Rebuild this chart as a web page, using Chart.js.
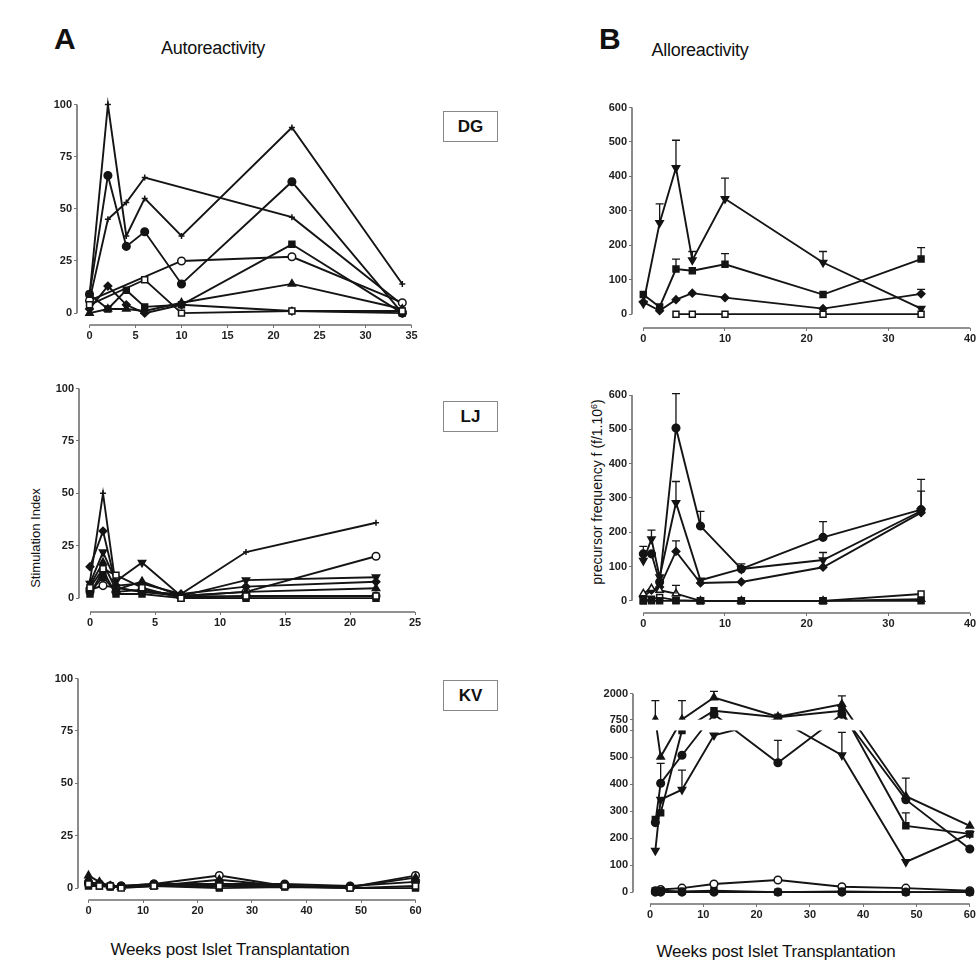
<!DOCTYPE html>
<html>
<head>
<meta charset="utf-8">
<script src="https://cdn.jsdelivr.net/npm/chart.js@4"></script>
<style>
  body { margin: 0; background: #fff; width: 978px; height: 969px; position: relative; overflow: hidden;
         font-family: "Liberation Sans", Arial, sans-serif; color: #111; }
  canvas { position: absolute; }
  .txt { position: absolute; white-space: nowrap; }
  .big { font-weight: bold; font-size: 30px; }
  .head { font-size: 18px; letter-spacing: -0.3px; transform: translateX(-50%); }
  .tag { position: absolute; width: 53px; height: 29px; border: 1px solid #888; font-weight: bold;
         font-size: 17px; line-height: 29px; text-align: center; }
  .rot { transform: translate(-50%, -50%) rotate(-90deg); }
  .foot { font-size: 17px; letter-spacing: -0.2px; transform: translateX(-50%); }
</style>
</head>
<body>
<div class="txt big" style="left:54px;top:22px">A</div>
<div class="txt head" style="left:213px;top:38px">Autoreactivity</div>
<div class="txt big" style="left:599px;top:22px">B</div>
<div class="txt head" style="left:700px;top:40px">Alloreactivity</div>
<div class="tag" style="left:443px;top:111px">DG</div>
<div class="tag" style="left:443px;top:401px">LJ</div>
<div class="tag" style="left:443px;top:680px">KV</div>
<div class="txt rot" style="left:35px;top:538px;font-size:13px">Stimulation Index</div>
<div class="txt rot" style="left:597px;top:492px;font-size:14px">precursor frequency f (f/1.10<sup style="font-size:9px">6</sup>)</div>
<div class="txt foot" style="left:230px;top:940px">Weeks post Islet Transplantation</div>
<div class="txt foot" style="left:776px;top:942px">Weeks post Islet Transplantation</div>

<script>
// ---- DG, autoreactivity (stimulation index) ----
const dgAutoWeeks = [0, 2, 4, 6, 10, 22, 34];
const dgAutoPlusA = [8, 100, 37, 55, 37, 89, 14];
const dgAutoDot   = [9, 66, 32, 39, 14, 63, 0];
const dgAutoPlusB = [6, 45, 53, 65, null, 46, 4];
const dgAutoRing  = [6, null, null, null, 25, 27, 5];
const dgAutoSq    = [9, 2, 11, 3, 4, 33, 0];
const dgAutoBox   = [4, null, null, 16, 0, 1, 1];
const dgAutoTri   = [0, 2, 2, 1, 5, 14, 2];
const dgAutoDia   = [2, 13, 4, 0, 4, 1, 0];

// ---- DG, alloreactivity (precursor frequency) ----
const dgAlloWeeks  = [0, 2, 4, 6, 10, 22, 34];
const dgAlloVtri   = [31, 265, 425, 157, 335, 150, 16];
const dgAlloVtriE  = [0, 55, 80, 25, 60, 32, 0];
const dgAlloSq     = [57, 21, 131, 126, 145, 57, 160];
const dgAlloSqE    = [0, 0, 29, 0, 31, 0, 33];
const dgAlloDia    = [35, 10, 42, 61, 48, 16, 59];
const dgAlloDiaE   = [0, 0, 0, 0, 0, 0, 13];
const dgAlloBox    = [null, null, 0, 0, 0, 0, 0];

// ---- LJ, autoreactivity ----
const ljAutoWeeks = [0, 1, 2, 4, 7, 12, 22];
const ljAutoPlus = [8, 50, 5, 3, 2, 22, 36];
const ljAutoRing = [4, 6, 5, 3, 1, 3, 20];
const ljAutoVtri = [7, 22, 8, 17, 1, 8.6, 10];
const ljAutoDia  = [15, 32, 6, 7, 2, 5.5, 7.8];
const ljAutoTri  = [6, 17, 4, 8, 1, 3, 4.7];
const ljAutoSq   = [2, 13, 2, 2, 0, 0, 0];
const ljAutoDot  = [3, 10, 3, 4, 1, 0.8, 1];
const ljAutoBox  = [5, 14, 11, 5, 0, 1, 1];

// ---- LJ, alloreactivity ----
const ljAlloWeeks = [0, 1, 2, 4, 7, 12, 22, 34];
const ljAlloDot   = [137, 137, 55, 504, 218, 93, 185, 266];
const ljAlloDotE  = [22, 0, 0, 100, 43, 15, 46, 88];
const ljAlloVtri  = [117, 180, 69, 286, 60, 93, 119, 262];
const ljAlloVtriE = [0, 26, 0, 62, 0, 0, 22, 58];
const ljAlloDia   = [12, 31, 40, 144, 52, 55, 98, 257];
const ljAlloDiaE  = [0, 0, 0, 31, 0, 0, 0, 0];
const ljAlloOtri  = [21, 36, 31, 21, 0, 0, 0, 5];
const ljAlloOtriE = [0, 0, 0, 24, 0, 0, 0, 0];
const ljAlloBox   = [0, 5, 10, 2, 0, 0, 0, 20];
const ljAlloSq    = [0, 0, 0, 0, 0, 0, 0, 0];

// ---- KV, autoreactivity ----
const kvAutoWeeks = [0, 2, 4, 6, 12, 24, 36, 48, 60];
const kvAutoRing = [2, 2, 1, 1, 2, 6, 1, 0.5, 6];
const kvAutoTri  = [6, 3, 1, 0.5, 1, 4, 1, 0.5, 5];
const kvAutoSq   = [1, 1, 0.5, 0.5, 1, 0, 0.5, 0, 0];
const kvAutoDot  = [3, 2, 1, 1, 2, 2, 2, 1, 3];
const kvAutoBox  = [2, 1, 1, 0, 1, 1, 1, 0, 1];

// ---- KV, alloreactivity (broken y axis 600 / 750) ----
const kvAlloWeeks = [1, 2, 6, 12, 24, 36, 48, 60];
const kvAlloTri   = [760, 502, 760, 1813, 893, 1490, 356, 246];
const kvAlloTriE  = [900, 0, 900, 300, 0, 400, 0, 0];
const kvAlloSq    = [270, 294, 600, 1178, 866, 1178, 246, 216];
const kvAlloSqE   = [0, 0, 0, 0, 0, 0, 48, 0];
const kvAlloDot   = [258, 404, 508, 1010, 480, 1010, 343, 160];
const kvAlloDotE  = [0, 74, 0, 0, 83, 0, 80, 0];
const kvAlloVtri  = [154, 343, 380, 582, 780, 508, 112, 216];
const kvAlloVtriE = [0, 0, 73, 0, 0, 85, 0, 0];
const kvAlloRing  = [5, 10, 15, 30, 45, 20, 15, 5];
const kvAlloZero  = [0, 0, 0, 0, 0, 0, 0, 0];
const kvAlloSqLow = [5, 5, 3, 5, 0, 3, 0, 0];

// tick labels
const autoYTicks = [0, 25, 50, 75, 100];
const alloYTicks = [0, 100, 200, 300, 400, 500, 600];
const kvAlloYTicks = [0, 100, 200, 300, 400, 500, 600, 750, 2000];

// piecewise y for the broken axis: 0-600 linear, 600-750 squeezed into the gap, 750-2000 compressed
function kvBreak(v) {
    if (v <= 600) return v;
    if (v <= 750) return 600 + (v - 600) * 40 / 150;
    return 640 + (v - 750) * 0.0771;
}

const INK = '#141414';
const MARK = {
    dot:  { pointStyle: 'circle',   radius: 3.8, open: false },
    ring: { pointStyle: 'circle',   radius: 3.8, open: true },
    sq:   { pointStyle: 'rect',     radius: 4.2, open: false },
    box:  { pointStyle: 'rect',     radius: 4.2, open: true },
    tri:  { pointStyle: 'triangle', radius: 4.2, open: false },
    otri: { pointStyle: 'triangle', radius: 4.2, open: true },
    vtri: { pointStyle: 'triangle', radius: 4.2, open: false, rot: 180 },
    dia:  { pointStyle: 'rectRot',  radius: 3.8, open: false },
    plus: { pointStyle: 'cross',    radius: 3,   open: false }
};

function series(weeks, values, mark, errs, tf) {
    const f = tf || (v => v);
    const pts = [];
    weeks.forEach((w, i) => {
        if (values[i] === null) return;
        const e = errs ? errs[i] : 0;
        pts.push({ x: w, y: f(values[i]), top: e ? f(values[i] + e) : null });
    });
    const m = MARK[mark];
    return {
        data: pts,
        borderColor: INK,
        borderWidth: 1.9,
        pointStyle: m.pointStyle,
        pointRadius: m.radius,
        pointRotation: m.rot || 0,
        pointBorderWidth: 1.5,
        pointBorderColor: INK,
        pointBackgroundColor: m.open ? '#fff' : INK,
        tension: 0,
        clip: false
    };
}

// axis lines (detached, prism style), break band and upward error bars
const panelDecor = {
    id: 'panelDecor',
    beforeDatasetsDraw(chart, args, o) {
        const { ctx, chartArea, scales } = chart;
        ctx.save();
        ctx.strokeStyle = '#6e6e6e';
        ctx.lineWidth = 1.6;
        ctx.beginPath();
        ctx.moveTo(chartArea.left, scales.y.getPixelForValue(o.yTo));
        ctx.lineTo(chartArea.left, scales.y.getPixelForValue(o.yFrom));
        ctx.moveTo(scales.x.getPixelForValue(o.xFrom), chartArea.bottom);
        ctx.lineTo(scales.x.getPixelForValue(o.xTo), chartArea.bottom);
        ctx.stroke();
        ctx.restore();
    },
    afterDatasetsDraw(chart, args, o) {
        const { ctx, chartArea, scales } = chart;
        ctx.save();
        if (o.band) {
            const y1 = scales.y.getPixelForValue(o.band[1]);
            const y0 = scales.y.getPixelForValue(o.band[0]);
            ctx.fillStyle = '#fff';
            ctx.fillRect(chartArea.left + 2, y1, chartArea.right - chartArea.left, y0 - y1);
        }
        ctx.strokeStyle = INK;
        ctx.lineWidth = 1.3;
        chart.data.datasets.forEach((ds, di) => {
            const meta = chart.getDatasetMeta(di);
            ds.data.forEach((p, i) => {
                if (p.top === null) return;
                const el = meta.data[i];
                const yt = scales.y.getPixelForValue(p.top);
                ctx.beginPath();
                ctx.moveTo(el.x, el.y);
                ctx.lineTo(el.x, yt);
                ctx.moveTo(el.x - 4, yt);
                ctx.lineTo(el.x + 4, yt);
                ctx.stroke();
            });
        });
        ctx.restore();
    }
};

const W_AX = 40, H_AX = 24, PAD = 6;
const tickFont = { family: '"Liberation Sans", Arial, sans-serif', size: 11, weight: 'bold' };

// area: chart area in page pixels; cal: value->pixel calibration
function panel(area, cal, axis, xTicks, yTicks, datasets, extra) {
    const c = document.createElement('canvas');
    const w = area.right - area.left + W_AX + 2 * PAD;
    const h = area.bottom - area.top + H_AX + 2 * PAD;
    c.width = w; c.height = h;
    c.style.left = (area.left - W_AX - PAD) + 'px';
    c.style.top = (area.top - PAD) + 'px';
    document.body.appendChild(c);

    const yLabels = (extra && extra.yLabels) || yTicks;
    const yPos = (extra && extra.yPos) || yTicks;

    new Chart(c, {
        type: 'line',
        data: { datasets },
        plugins: [panelDecor],
        options: {
            responsive: false,
            animation: false,
            events: [],
            layout: { padding: PAD },
            plugins: {
                legend: { display: false },
                tooltip: { enabled: false },
                panelDecor: Object.assign({}, axis, { band: extra && extra.band })
            },
            scales: {
                x: {
                    type: 'linear',
                    min: (area.left - cal.x0) / cal.xs,
                    max: (area.right - cal.x0) / cal.xs,
                    afterBuildTicks: s => { s.ticks = xTicks.map(v => ({ value: v })); },
                    afterFit: s => { s.height = H_AX; },
                    border: { display: false },
                    grid: { drawOnChartArea: false, tickLength: 3, color: '#777' },
                    ticks: { font: tickFont, color: '#1e1e1e', padding: 1, maxRotation: 0, autoSkip: false }
                },
                y: {
                    type: 'linear',
                    min: (cal.y0 - area.bottom) / cal.ys,
                    max: (cal.y0 - area.top) / cal.ys,
                    afterBuildTicks: s => { s.ticks = yPos.map(v => ({ value: v })); },
                    afterFit: s => { s.width = W_AX; },
                    border: { display: false },
                    grid: { drawOnChartArea: false, tickLength: 3, color: '#777' },
                    ticks: { font: tickFont, color: '#1e1e1e', padding: 2, autoSkip: false,
                             callback: (v, i) => yLabels[i] }
                }
            }
        }
    });
}

// A - DG
panel({ left: 77, right: 416, top: 96, bottom: 325 },
      { x0: 89.5, xs: 9.2, y0: 313, ys: 2.11 },
      { xFrom: 0, xTo: 35, yFrom: 0, yTo: 100 },
      [0, 5, 10, 15, 20, 25, 30, 35], autoYTicks, [
    series(dgAutoWeeks, dgAutoBox, 'box'),
    series(dgAutoWeeks, dgAutoDia, 'dia'),
    series(dgAutoWeeks, dgAutoTri, 'tri'),
    series(dgAutoWeeks, dgAutoSq, 'sq'),
    series(dgAutoWeeks, dgAutoRing, 'ring'),
    series(dgAutoWeeks, dgAutoPlusB, 'plus'),
    series(dgAutoWeeks, dgAutoDot, 'dot'),
    series(dgAutoWeeks, dgAutoPlusA, 'plus')
]);

// A - LJ
panel({ left: 79, right: 418, top: 382, bottom: 612 },
      { x0: 90, xs: 13.0, y0: 598, ys: 2.12 },
      { xFrom: 0, xTo: 25, yFrom: 0, yTo: 100 },
      [0, 5, 10, 15, 20, 25], autoYTicks, [
    series(ljAutoWeeks, ljAutoBox, 'box'),
    series(ljAutoWeeks, ljAutoDot, 'dot'),
    series(ljAutoWeeks, ljAutoSq, 'sq'),
    series(ljAutoWeeks, ljAutoTri, 'tri'),
    series(ljAutoWeeks, ljAutoDia, 'dia'),
    series(ljAutoWeeks, ljAutoVtri, 'vtri'),
    series(ljAutoWeeks, ljAutoRing, 'ring'),
    series(ljAutoWeeks, ljAutoPlus, 'plus')
]);

// A - KV
panel({ left: 78, right: 420, top: 672, bottom: 900 },
      { x0: 88.5, xs: 5.45, y0: 888, ys: 2.12 },
      { xFrom: 0, xTo: 60, yFrom: 0, yTo: 100 },
      [0, 10, 20, 30, 40, 50, 60], autoYTicks, [
    series(kvAutoWeeks, kvAutoBox, 'box'),
    series(kvAutoWeeks, kvAutoSq, 'sq'),
    series(kvAutoWeeks, kvAutoDot, 'dot'),
    series(kvAutoWeeks, kvAutoTri, 'tri'),
    series(kvAutoWeeks, kvAutoRing, 'ring')
]);

// B - DG
panel({ left: 632, right: 972, top: 100, bottom: 328 },
      { x0: 643.3, xs: 8.17, y0: 314, ys: 0.3483 },
      { xFrom: 0, xTo: 40, yFrom: 0, yTo: 600 },
      [0, 10, 20, 30, 40], alloYTicks, [
    series(dgAlloWeeks, dgAlloBox, 'box'),
    series(dgAlloWeeks, dgAlloDia, 'dia', dgAlloDiaE),
    series(dgAlloWeeks, dgAlloSq, 'sq', dgAlloSqE),
    series(dgAlloWeeks, dgAlloVtri, 'vtri', dgAlloVtriE)
]);

// B - LJ
panel({ left: 632, right: 972, top: 388, bottom: 613 },
      { x0: 643.3, xs: 8.17, y0: 600.7, ys: 0.347 },
      { xFrom: 0, xTo: 40, yFrom: 0, yTo: 600 },
      [0, 10, 20, 30, 40], alloYTicks, [
    series(ljAlloWeeks, ljAlloSq, 'sq'),
    series(ljAlloWeeks, ljAlloBox, 'box'),
    series(ljAlloWeeks, ljAlloOtri, 'otri', ljAlloOtriE),
    series(ljAlloWeeks, ljAlloDia, 'dia', ljAlloDiaE),
    series(ljAlloWeeks, ljAlloVtri, 'vtri', ljAlloVtriE),
    series(ljAlloWeeks, ljAlloDot, 'dot', ljAlloDotE)
]);

// B - KV (broken axis)
panel({ left: 633, right: 973, top: 686, bottom: 904 },
      { x0: 650, xs: 5.33, y0: 892, ys: 0.2728 },
      { xFrom: 0, xTo: 60, yFrom: 0, yTo: kvBreak(2000) },
      [0, 10, 20, 30, 40, 50, 60], kvAlloYTicks, [
    series(kvAlloWeeks, kvAlloSqLow, 'sq', null, kvBreak),
    series(kvAlloWeeks, kvAlloZero, 'dot', null, kvBreak),
    series(kvAlloWeeks, kvAlloRing, 'ring', null, kvBreak),
    series(kvAlloWeeks, kvAlloVtri, 'vtri', kvAlloVtriE, kvBreak),
    series(kvAlloWeeks, kvAlloDot, 'dot', kvAlloDotE, kvBreak),
    series(kvAlloWeeks, kvAlloSq, 'sq', kvAlloSqE, kvBreak),
    series(kvAlloWeeks, kvAlloTri, 'tri', kvAlloTriE, kvBreak)
], { yPos: kvAlloYTicks.map(kvBreak), yLabels: kvAlloYTicks, band: [600, 640] });
</script>
</body>
</html>
